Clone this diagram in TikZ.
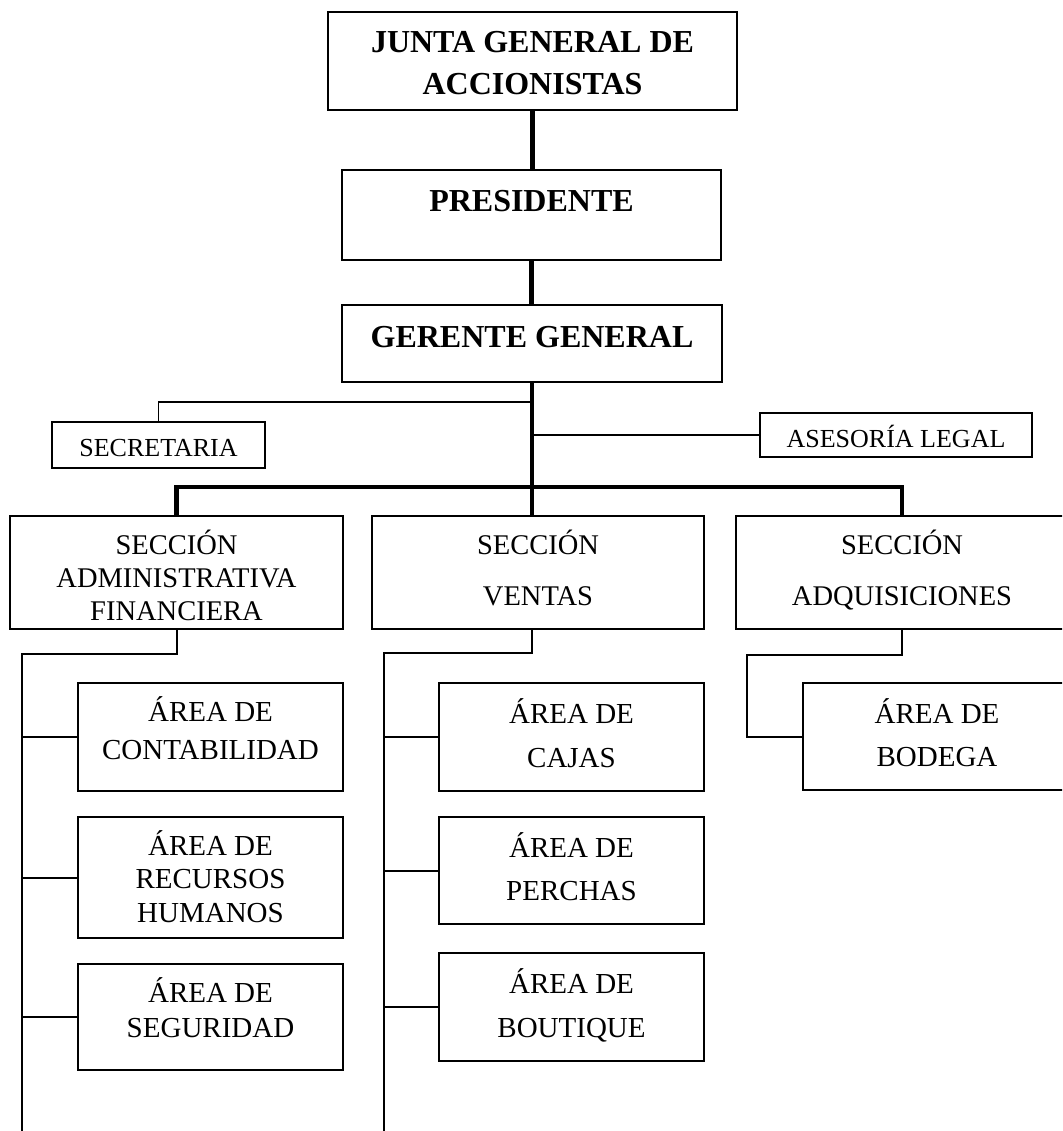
\documentclass[tikz,border=0pt]{standalone}
\usepackage{fontspec}
\setmainfont{Liberation Serif}
\begin{document}
\begin{tikzpicture}[x=1pt,y=-1pt,
  box/.style={draw, line width=2pt, inner sep=0pt, align=center},
  % put the reference (last) baseline #1/2 above / below the box centre
  base up/.style={text height=0pt, text depth=#1},
  base down/.style={text height=#1, text depth=0pt},
  headfont/.style={font=\fontsize{32}{42}\selectfont\bfseries},
  smallfont/.style={font=\fontsize{26}{30}\selectfont},
  thickline/.style={line width=4.5pt},
  thinline/.style={line width=1.8pt},
  midline/.style={line width=2pt}]

\clip (0,0) rectangle (1062,1131);

% --- direction ---
\node[box, headfont, base down=68pt, minimum width=409pt, minimum height=98pt]
  (junta) at (532.5,61) {JUNTA GENERAL DE\\ACCIONISTAS};
\node[box, headfont, base up=6pt, minimum width=379pt, minimum height=90pt]
  (pres) at (531.5,215) {PRESIDENTE};
\node[box, headfont, base down=7pt, minimum width=380pt, minimum height=77pt]
  (gerente) at (532,343.5) {GERENTE GENERAL};

% --- staff units ---
\node[box, smallfont, base down=23pt, minimum width=213pt, minimum height=46pt]
  (sec) at (158.5,445) {SECRETARIA};
\node[box, smallfont, base down=24pt, minimum width=272pt, minimum height=44pt]
  (ase) at (896,435) {ASESORÍA LEGAL};

% --- sections ---
\node[box, font=\fontsize{28.5}{33}\selectfont, base down=95pt,
  minimum width=333pt, minimum height=113pt]
  (s1) at (176.5,572.5) {SECCIÓN\\ADMINISTRATIVA\\FINANCIERA};
\node[box, font=\fontsize{28.5}{51}\selectfont, base down=65pt,
  minimum width=332pt, minimum height=113pt]
  (s2) at (538,572.5) {SECCIÓN\\VENTAS};
\node[box, font=\fontsize{28.5}{51}\selectfont, base down=65pt,
  minimum width=332pt, minimum height=113pt]
  (s3) at (902,572.5) {SECCIÓN\\ADQUISICIONES};

% --- areas ---
\node[box, font=\fontsize{29}{37.5}\selectfont, base down=44pt,
  minimum width=265pt, minimum height=108pt]
  (contab) at (210.5,737) {ÁREA DE\\CONTABILIDAD};
\node[box, font=\fontsize{29}{33.5}\selectfont, base down=89pt,
  minimum width=265pt, minimum height=121pt]
  (rrhh) at (210.5,877.5) {ÁREA DE\\RECURSOS\\HUMANOS};
\node[box, font=\fontsize{29}{35}\selectfont, base down=40pt,
  minimum width=265pt, minimum height=106pt]
  (segur) at (210.5,1017) {ÁREA DE\\SEGURIDAD};

\node[box, font=\fontsize{29}{44}\selectfont, base down=60pt,
  minimum width=265pt, minimum height=108pt]
  (cajas) at (571.5,737) {ÁREA DE\\CAJAS};
\node[box, font=\fontsize{29}{43}\selectfont, base down=59pt,
  minimum width=265pt, minimum height=107pt]
  (perchas) at (571.5,870.5) {ÁREA DE\\PERCHAS};
\node[box, font=\fontsize{29}{44}\selectfont, base down=60pt,
  minimum width=265pt, minimum height=108pt]
  (boutique) at (571.5,1007) {ÁREA DE\\BOUTIQUE};

\node[box, font=\fontsize{29}{43}\selectfont, base down=59pt,
  minimum width=268pt, minimum height=107pt]
  (bodega) at (937,736.5) {ÁREA DE\\BODEGA};

% --- main line of command ---
\draw[thickline] (junta.south) -- (junta.south |- pres.north);
\draw[thickline] (pres.south) -- (pres.south |- gerente.north);
\draw[thickline] (gerente.south) -- (gerente.south |- s2.north);

\coordinate (bus) at (0,487);
\draw[thickline] (s1.north) -- (s1.north |- bus) -- (s3.north |- bus) -- (s3.north);

% --- staff connectors ---
\coordinate (secy) at (0,402);
\draw[thinline] (gerente.south |- secy) -| (sec.north);
\draw[thinline] (gerente.south |- ase.west) -- (ase.west);

% --- section 1 subtree ---
\coordinate (s1spine) at (22,654);
\coordinate (s1foot) at (22,1140);
\draw[midline] (s1.south) -- (s1.south |- s1spine) -- (s1spine) -- (s1foot);
\draw[midline] (s1spine |- contab.west) -- (contab.west);
\draw[midline] (s1spine |- rrhh.west) -- (rrhh.west);
\draw[midline] (s1spine |- segur.west) -- (segur.west);

% --- section 2 subtree ---
\coordinate (s2spine) at (384,653);
\coordinate (s2foot) at (384,1140);
\draw[midline] (gerente.south |- s2.south) -- (gerente.south |- s2spine) -- (s2spine) -- (s2foot);
\draw[midline] (s2spine |- cajas.west) -- (cajas.west);
\draw[midline] (s2spine |- perchas.west) -- (perchas.west);
\draw[midline] (s2spine |- boutique.west) -- (boutique.west);

% --- section 3 subtree ---
\coordinate (s3spine) at (747,655);
\draw[midline] (s3.south) -- (s3.south |- s3spine) -- (s3spine) |- (bodega.west);

\end{tikzpicture}
\end{document}
